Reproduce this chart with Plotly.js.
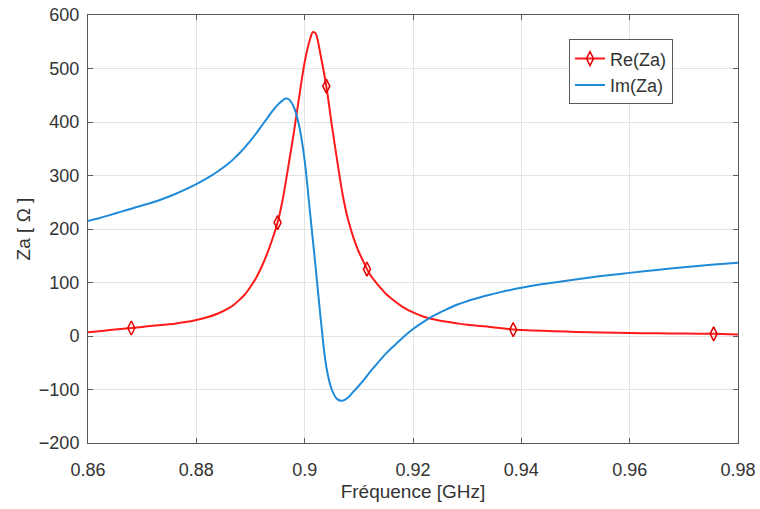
<!DOCTYPE html>
<html>
<head>
<meta charset="utf-8">
<script src="https://cdn.plot.ly/plotly-3.0.1.min.js"></script>
<style>html,body{margin:0;padding:0;background:#fff;}#chart{width:760px;height:509px;}</style>
</head>
<body>
<div id="chart"></div>
<script>
// Re(Za) data (GHz, ohm)
var reFreq = [0.860, 0.862, 0.864, 0.866, 0.868, 0.870, 0.872, 0.874, 0.876, 0.878, 0.880, 0.882, 0.884, 0.886, 0.887, 0.888, 0.889, 0.890, 0.891, 0.892, 0.893, 0.894, 0.895, 0.896, 0.897, 0.898, 0.899, 0.900, 0.901, 0.9015, 0.902, 0.903, 0.904, 0.905, 0.906, 0.907, 0.908, 0.909, 0.910, 0.911, 0.9115, 0.912, 0.913, 0.914, 0.915, 0.916, 0.918, 0.920, 0.922, 0.924, 0.926, 0.928, 0.930, 0.935, 0.9385, 0.942, 0.946, 0.950, 0.955, 0.960, 0.965, 0.970, 0.9755, 0.980];
var reVal  = [7, 9, 11, 13, 15, 17, 19, 21, 23, 26, 30, 35, 42, 52, 59, 68, 78, 92, 108, 128, 152, 180, 212, 258, 318, 380, 448, 512, 555, 568, 566, 522, 467, 395, 328, 265, 218, 184, 157, 136, 125, 116, 102, 90, 79, 70, 55, 44, 36, 31, 27, 24, 21, 16, 12, 10.5, 9, 7.5, 6.5, 5.5, 5, 4.5, 4, 3];
// indices of reFreq/reVal that carry a marker
var reMarkerIdx = [4, 22, 32, 40, 54, 62];

// Im(Za) data (GHz, ohm)
var imFreq = [0.860, 0.862, 0.864, 0.866, 0.868, 0.870, 0.872, 0.874, 0.876, 0.878, 0.880, 0.882, 0.884, 0.886, 0.887, 0.888, 0.889, 0.890, 0.891, 0.892, 0.893, 0.894, 0.895, 0.896, 0.8965, 0.897, 0.898, 0.899, 0.900, 0.901, 0.902, 0.903, 0.904, 0.905, 0.906, 0.907, 0.908, 0.909, 0.910, 0.911, 0.912, 0.913, 0.914, 0.915, 0.916, 0.918, 0.920, 0.922, 0.924, 0.926, 0.928, 0.930, 0.932, 0.934, 0.936, 0.938, 0.940, 0.944, 0.948, 0.952, 0.956, 0.960, 0.965, 0.970, 0.975, 0.980];
var imVal  = [215, 220, 226, 232, 238, 244, 250, 257, 265, 274, 284, 295, 308, 323, 332, 342, 353, 365, 378, 392, 406, 420, 432, 441, 444, 443, 428, 392, 328, 230, 131, 28, -58, -100, -118, -121, -115, -104, -93, -81, -68, -56, -44, -33, -23, -4, 13, 27, 39, 49, 58, 65, 71, 76.5, 81.5, 86, 90, 97, 103, 108.5, 113.5, 118, 123.5, 128.5, 133, 137];

var xTicks = [0.86, 0.88, 0.9, 0.92, 0.94, 0.96, 0.98];
var xTickText = ['0.86', '0.88', '0.9', '0.92', '0.94', '0.96', '0.98'];
var yTicks = [-200, -100, 0, 100, 200, 300, 400, 500, 600];

// marker trace (gaps so no line is drawn between markers; line only shows in legend)
var mx = [], my = [];
reMarkerIdx.forEach(function (i, k) {
  if (k > 0) { mx.push(null); my.push(null); }
  mx.push(reFreq[i]); my.push(reVal[i]);
});

var red = '#ff1a1a';
var blue = '#1f8ad8';
var fontFam = 'Liberation Sans, Arial, sans-serif';

var traces = [
  {x: reFreq, y: reVal, type: 'scatter', mode: 'lines', line: {color: red, width: 2, shape: 'spline', smoothing: 0.8}, showlegend: false, hoverinfo: 'skip'},
  {x: mx, y: my, type: 'scatter', mode: 'lines+markers', name: 'Re(Za)', connectgaps: false,
   line: {color: red, width: 2},
   marker: {symbol: 'diamond-tall-open', size: 10, color: '#e00000', line: {width: 1.5, color: '#e00000'}}},
  {x: imFreq, y: imVal, type: 'scatter', mode: 'lines', name: 'Im(Za)', line: {color: blue, width: 2, shape: 'spline', smoothing: 0.9}}
];

var axisCommon = {
  showline: true, linecolor: '#5a5a5a', linewidth: 1, mirror: 'ticks',
  ticks: 'inside', ticklen: 5, tickcolor: '#5a5a5a',
  showgrid: true, gridcolor: '#e3e3e3', gridwidth: 1,
  zeroline: false,
  tickfont: {family: fontFam, size: 18, color: '#333'}
};

var layout = {
  width: 760, height: 509,
  margin: {l: 88, r: 22, t: 15, b: 66},
  paper_bgcolor: '#fff', plot_bgcolor: '#fff',
  font: {family: fontFam, size: 18, color: '#333'},
  xaxis: Object.assign({}, axisCommon, {
    range: [0.86, 0.98], tickvals: xTicks, ticktext: xTickText, ticklabelstandoff: 10,
    title: {text: 'Fréquence [GHz]', font: {size: 19, color: '#333'}, standoff: 6}
  }),
  yaxis: Object.assign({}, axisCommon, {
    range: [-200, 600], tickvals: yTicks, ticklabelstandoff: 4,
    title: {text: 'Za [ Ω ]', font: {size: 19, color: '#333'}, standoff: 3}
  }),
  legend: {
    x: 0.74, y: 0.943, xanchor: 'left', yanchor: 'top',
    bgcolor: '#fff', bordercolor: '#5a5a5a', borderwidth: 1,
    font: {size: 18, color: '#333'}
  },
  showlegend: true
};

Plotly.newPlot('chart', traces, layout, {staticPlot: true, displayModeBar: false});
</script>
</body>
</html>
